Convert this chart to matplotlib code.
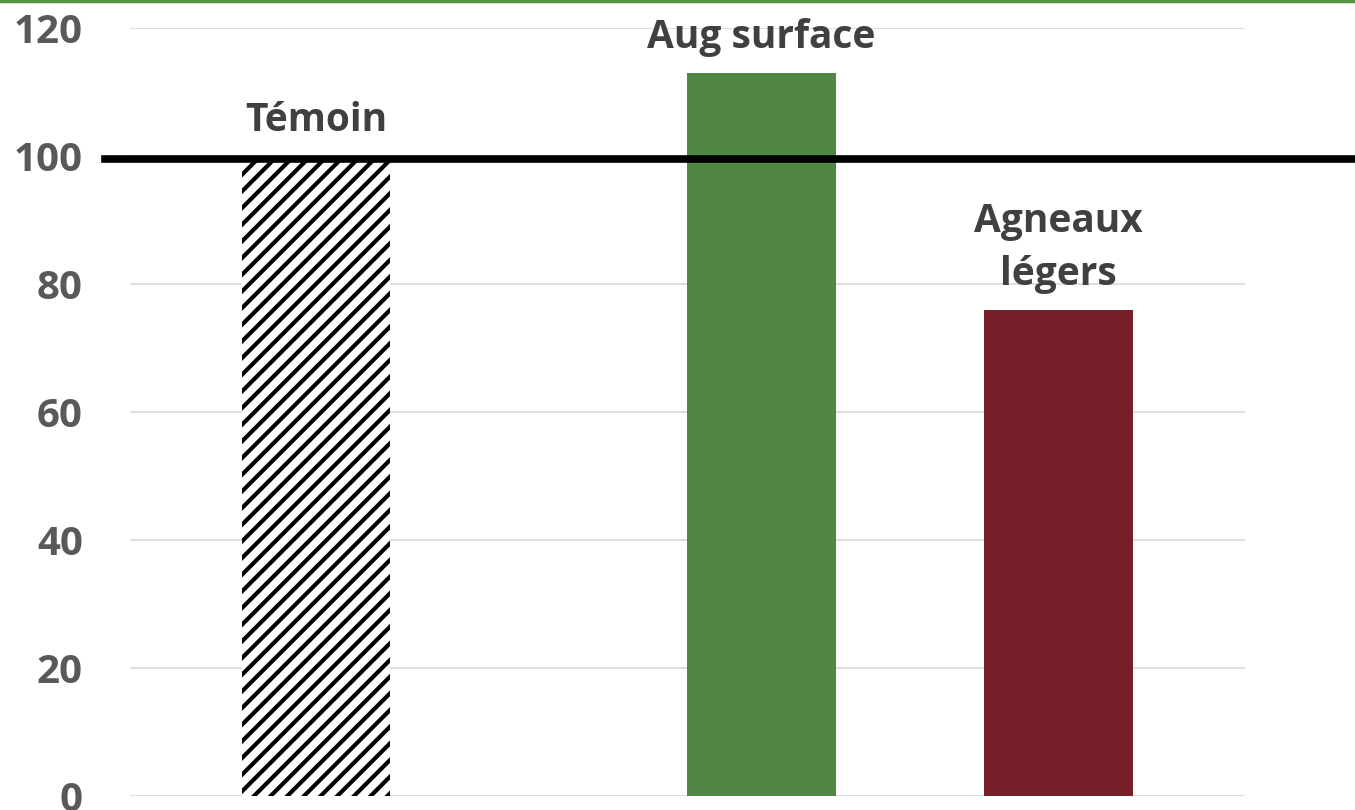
import matplotlib
matplotlib.use("Agg")
import matplotlib.pyplot as plt
from matplotlib.lines import Line2D

categories = ["Témoin", "Aug surface", "Agneaux\nlégers"]
values = [100, 113, 76]
positions = [0.0, 1.5, 2.5]
reference = 99.6
yticks = [0, 20, 40, 60, 80, 100, 120]

plt.rcParams['font.family'] = ['Open Sans', 'DejaVu Sans']
plt.rcParams['hatch.linewidth'] = 3.0
plt.rcParams['hatch.color'] = 'black'

fig = plt.figure(figsize=(13.55, 8.10), dpi=100)
ax = fig.add_axes([130/1355, 14/810, (1245-130)/1355, (796-28)/810])

styles = [
    dict(facecolor='white', hatch='//', edgecolor='black', linewidth=0),
    dict(color='#508744'),
    dict(color='#751f29'),
]
width = 0.5
for x, v, st in zip(positions, values, styles):
    ax.bar(x, v, width=width, zorder=2, **st)

for x, v, lab in zip(positions, values, categories):
    ax.annotate(lab, xy=(x, v), xytext=(0, 18), textcoords='offset points',
                ha='center', va='baseline', fontsize=28, fontweight='bold',
                color='#404040', linespacing=1.45, annotation_clip=False)

ax.axhline(reference, xmin=(105-130)/1115, xmax=(1355-130)/1115,
           color='black', linewidth=5.5, clip_on=False, zorder=3)

ax.set_ylim(0, 120)
ax.set_xlim((130-316)/297, (1245-316)/297)
ax.set_yticks(yticks)
ax.set_yticklabels([str(t) for t in yticks])
ax.set_xticks([])
ax.tick_params(axis='y', length=0, pad=34, labelsize=29, labelcolor='#595959')
for lbl in ax.get_yticklabels():
    lbl.set_fontweight('bold')
ax.grid(axis='y', color='#d9d9d9', linewidth=1.2, zorder=0)
ax.set_axisbelow(True)
for s in ax.spines.values():
    s.set_visible(False)

fig.add_artist(Line2D([0, 1], [0.999, 0.999], transform=fig.transFigure,
                      color='#5a9140', linewidth=2.5))

fig.savefig("out.png", dpi=100)
